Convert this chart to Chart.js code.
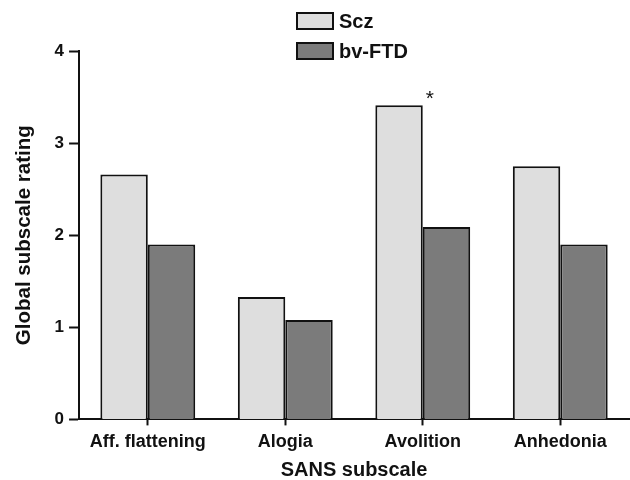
<!DOCTYPE html>
<html>
<head>
<meta charset="utf-8">
<script src="https://cdn.jsdelivr.net/npm/chart.js@4"></script>
<style>
  html, body { margin: 0; padding: 0; background: #fff; }
  #wrap { width: 630px; height: 480px; }
</style>
</head>
<body>
<div id="wrap"><canvas id="chart"></canvas></div>
<script>
const categories = ['Aff. flattening', 'Alogia', 'Avolition', 'Anhedonia'];
const sczValues = [2.66, 1.33, 3.41, 2.75];
const ftdValues = [1.90, 1.08, 2.09, 1.90];
const sczMarks = ['', '', '*', ''];
const yTicks = [0, 1, 2, 3, 4];

const ink = '#111111';
const FONT = '"Liberation Sans", Arial, Helvetica, sans-serif';

// legend stacked in two rows above the plot
const stackedLegend = {
    id: 'stackedLegend',
    afterDraw(chart) {
        const ctx = chart.ctx;
        ctx.save();
        chart.data.datasets.forEach((ds, i) => {
            const y = 13 + i * 30;
            ctx.fillStyle = ds.backgroundColor;
            ctx.fillRect(297, y, 36, 16);
            ctx.strokeStyle = ds.borderColor;
            ctx.lineWidth = 2;
            ctx.strokeRect(297, y, 36, 16);
            ctx.fillStyle = ink;
            ctx.font = 'bold 20px ' + FONT;
            ctx.textBaseline = 'middle';
            ctx.textAlign = 'left';
            ctx.fillText(ds.label, 339, y + 9);
        });
        ctx.restore();
    }
};

// significance asterisk next to the Scz bar
const marks = {
    id: 'marks',
    afterDatasetsDraw(chart) {
        const ctx = chart.ctx;
        const meta = chart.getDatasetMeta(0);
        ctx.save();
        ctx.fillStyle = ink;
        ctx.font = '21px ' + FONT;
        ctx.textAlign = 'center';
        ctx.textBaseline = 'alphabetic';
        meta.data.forEach((bar, i) => {
            if (!sczMarks[i]) return;
            ctx.fillText(sczMarks[i], bar.x + bar.width / 2 + 7, bar.y);
        });
        ctx.restore();
    }
};

new Chart(document.getElementById('chart'), {
    type: 'bar',
    data: {
        labels: categories,
        datasets: [{
            label: 'Scz',
            data: sczValues,
            backgroundColor: '#dedede',
            borderColor: ink,
            borderWidth: 2,
            borderSkipped: 'bottom'
        },
        {
            label: 'bv-FTD',
            data: ftdValues,
            backgroundColor: '#7b7b7b',
            borderColor: ink,
            borderWidth: 2,
            borderSkipped: 'bottom'
        }]
    },
    options: {
        responsive: true,
        maintainAspectRatio: false,
        animation: false,
        categoryPercentage: 0.69,
        barPercentage: 1,
        layout: { padding: { top: 51, right: 1, bottom: 0, left: 12 } },
        plugins: {
            legend: { display: false },
            tooltip: { enabled: false }
        },
        scales: {
            x: {
                grid: {
                    offset: false,
                    drawOnChartArea: false,
                    tickLength: 6,
                    tickWidth: 2,
                    tickColor: ink
                },
                border: { color: ink, width: 2 },
                ticks: {
                    color: ink,
                    padding: 6,
                    font: { family: FONT, size: 18, weight: 'bold' }
                },
                title: {
                    display: true,
                    text: 'SANS subscale',
                    color: ink,
                    padding: { top: 1, bottom: 0 },
                    font: { family: FONT, size: 20, weight: 'bold', lineHeight: 1 }
                }
            },
            y: {
                min: 0,
                max: 4,
                afterBuildTicks(scale) {
                    scale.ticks = yTicks.map(v => ({ value: v }));
                },
                grid: {
                    drawOnChartArea: false,
                    tickLength: 10,
                    tickWidth: 2,
                    tickColor: ink
                },
                border: { color: ink, width: 2 },
                ticks: {
                    color: ink,
                    padding: 5,
                    font: { family: FONT, size: 17, weight: 'bold' }
                },
                title: {
                    display: true,
                    text: 'Global subscale rating',
                    color: ink,
                    padding: { top: 0, bottom: 13 },
                    font: { family: FONT, size: 20.5, weight: 'bold' }
                }
            }
        }
    },
    plugins: [stackedLegend, marks]
});
</script>
</body>
</html>
